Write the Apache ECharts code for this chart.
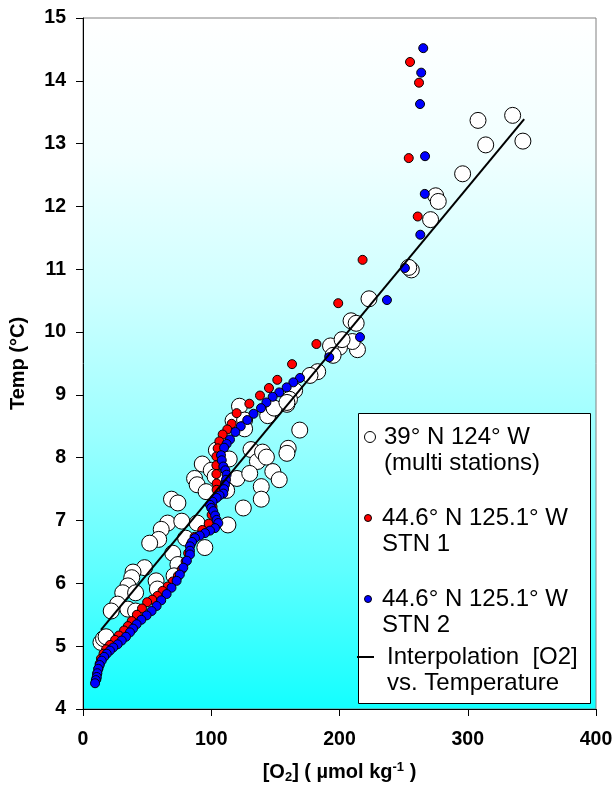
<!DOCTYPE html>
<html><head><meta charset="utf-8">
<script src="https://cdn.jsdelivr.net/npm/echarts@6/dist/echarts.min.js"></script>
<style>html,body{margin:0;padding:0;background:#fff}#c{width:616px;height:789px}</style>
</head><body><div id="c"></div>
<script>
// Axis ranges [min, max, interval]
const xRange = [0, 400, 100];
const yRange = [4, 15, 1];

const seriesNames = ['39° N 124° W\n(multi stations)', '44.6° N 125.1° W\nSTN 1', '44.6° N 125.1° W\nSTN 2', 'Interpolation  [O2]\nvs. Temperature'];

// [O2 (umol/kg), Temp (°C)]
const multiStations = [
 [335,13.45],[308,13.37],[314,12.98],[343,13.04],[296,12.52],[275,12.17],[277,12.08],[271,11.79],[256,10.99],[254,11.03],
 [223,10.53],[209,10.18],[213,10.14],[214,9.72],[210,9.85],[200,9.76],[193,9.78],[202,9.88],[195,9.63],[183,9.37],
 [177,9.31],[165,9.07],[161,8.93],[159,8.85],
 [122,8.82],[117,8.59],[126,8.60],[126,8.46],[144,8.67],[149,8.79],[159,8.88],[169,8.44],[160,8.15],[159,8.07],
 [131,8.13],[136,7.94],[140,8.09],[143,8.01],[104,8.12],[114,7.98],[93,7.90],[100,7.80],[87,7.67],[89,7.57],
 [103,7.70],[120,7.67],[130,7.75],[112,7.48],[96,7.46],[148,7.78],[153,7.65],[139,7.54],[139,7.34],[125,7.20],
 [69,7.34],[74,7.28],[66,6.96],[77,6.99],[89,6.96],[113,6.93],
 [61,6.86],[59,6.70],[52,6.64],[80,6.72],[95,6.57],[70,6.48],[48,6.25],[39,6.18],[38,6.09],[35,5.96],
 [31,5.85],[41,5.85],[57,6.04],[58,5.91],[74,6.30],[71,6.12],[27,5.67],[22,5.56],[35,5.59],[41,5.56],
 [14,5.06],[16,5.12],[18,5.15]
];

const stn1 = [
 [255,14.30],[262,13.97],[254,12.77],[261,11.84],[218,11.15],[199,10.46],[182,9.81],[163,9.49],[151.5,9.24],[145,9.11],
 [138,8.99],[129.7,8.86],[119.8,8.71],[115.9,8.54],[112.5,8.45],[108.9,8.37],[106.3,8.26],[105,8.15],[104,8.02],[104,7.88],
 [104,7.74],[104.2,7.59],[104.2,7.49],[103,7.35],[101,7.22],[100.3,7.09],[98,6.95],[93,6.85],[87,6.74],[84,6.62],
 [82,6.48],[80,6.35],[77,6.22],[74,6.12],[70,6.03],[66,5.95],[62,5.88],[58,5.80],[54,5.74],[50,5.70],
 [46,5.60],[42,5.50],[38,5.40],[35,5.32],[32,5.25],[28,5.17],[25,5.10],[21,5.02],[18,4.95],[16,4.88],
 [14,4.80],[13,4.72],[12,4.64],[11,4.56],[10.5,4.48]
];

const stn2 = [
 [265.3,14.52],[263.7,14.13],[262.8,13.63],[266.7,12.80],[266.5,12.20],[263,11.55],[251,11.02],[237,10.51],[216,9.92],[192,9.60],
 [169.2,9.27],[164,9.20],[158.8,9.12],[153,9.04],[147.9,8.97],[143,8.88],[138.8,8.79],[133,8.70],[128.1,8.60],[123,8.50],
 [118.8,8.41],[114.6,8.29],[112,8.22],[110,8.16],[107.6,8.04],[108.2,7.96],[109.4,7.86],[111,7.80],[112,7.73],[111.5,7.65],
 [110.7,7.57],[110,7.50],[109.4,7.43],[106.5,7.40],[104.2,7.36],[101,7.30],[99,7.25],[100,7.20],[101.6,7.15],[103,7.08],
 [104.2,7.01],[105.5,6.96],[102.9,6.88],[99,6.84],[95.1,6.80],[91,6.76],[87.3,6.72],[85,6.66],[83.4,6.59],[83.4,6.52],
 [83.4,6.46],[81,6.36],[78.2,6.25],[75.5,6.14],[73,6.04],[69,5.93],[65.2,5.83],[61,5.73],[57.4,5.64],[53.5,5.56],
 [49.6,5.49],[45.5,5.42],[41.8,5.35],[39,5.28],[36.6,5.22],[33.5,5.15],[30.2,5.09],[27,5.03],[23.6,4.98],[21,4.93],
 [18.5,4.88],[16.5,4.83],[14.6,4.77],[13,4.70],[11.9,4.64],[11.2,4.57],[10.7,4.51],[10,4.46],[9.4,4.41]
];

// interpolation line endpoints
const interpLine = [[14,5.26],[344,13.39]];

const FONT = '"Liberation Sans", Arial, sans-serif';
const LEG_FS = 24, LEG_LH = 26;

// Icons drawn at the top of their box so they line up with the first text line
const iconBig = 'path://M0,5.5A5.5,5.5,0,1,1,11,5.5A5.5,5.5,0,1,1,0,5.5ZM5.5,37';
const iconSmall = 'path://M0,3.5A3.5,3.5,0,1,1,7,3.5A3.5,3.5,0,1,1,0,3.5ZM3.5,33';
const iconLine = 'path://M0,0L17,0L17,2L0,2ZM25,28';

function legendFor(idx, left, top, icon, itemWidth, itemHeight, itemStyle) {
  return {
    orient: 'vertical', left: left, top: top, padding: 0,
    itemWidth: itemWidth, itemHeight: itemHeight, itemGap: 0, symbolKeepAspect: true,
    textStyle: {fontFamily: FONT, fontSize: LEG_FS, color: '#000', lineHeight: LEG_LH},
    data: [{name: seriesNames[idx], icon: icon, itemStyle: itemStyle}]
  };
}

const chart = echarts.init(document.getElementById('c'), null, {renderer: 'canvas'});
chart.setOption({
  animation: false,
  backgroundColor: '#ffffff',
  grid: {
    left: 83, right: 20, top: 18, bottom: 75,
    show: true,
    borderColor: '#808080', borderWidth: 1,
    backgroundColor: {type: 'linear', x: 0, y: 0, x2: 0, y2: 1,
      colorStops: [
        {offset: 0, color: '#ffffff'}, {offset: 0.2, color: '#f0ffff'}, {offset: 0.4, color: '#ceffff'},
        {offset: 0.6, color: '#9cffff'}, {offset: 0.8, color: '#5effff'}, {offset: 1, color: '#12ffff'}]}
  },
  graphic: [{
    type: 'rect', z: 3,
    shape: {x: 358.5, y: 413.5, width: 232, height: 290},
    style: {fill: '#ffffff', stroke: '#000000', lineWidth: 1}
  }],
  xAxis: {
    type: 'value', min: xRange[0], max: xRange[1], interval: xRange[2],
    axisLine: {show: true, onZero: false, lineStyle: {color: '#000', width: 1}},
    axisTick: {show: true, inside: false, length: 7, lineStyle: {color: '#000'}},
    splitLine: {show: false},
    axisLabel: {fontFamily: FONT, fontSize: 19.5, fontWeight: 'bold', color: '#000', margin: 21},
    name: '[O{sub|2}] ( µmol kg{sup|-1} )',
    nameLocation: 'middle', nameGap: 52,
    nameTextStyle: {fontFamily: FONT, fontSize: 20, fontWeight: 'bold', color: '#000',
      rich: {
        sub: {fontFamily: FONT, fontSize: 13, fontWeight: 'bold', color: '#000', padding: [10, 0, 0, 0]},
        sup: {fontFamily: FONT, fontSize: 13, fontWeight: 'bold', color: '#000', padding: [0, 0, 10, 0]}
      }}
  },
  yAxis: {
    type: 'value', min: yRange[0], max: yRange[1], interval: yRange[2],
    axisLine: {show: true, onZero: false, lineStyle: {color: '#000', width: 1}},
    axisTick: {show: true, inside: false, length: 7, lineStyle: {color: '#000'}},
    splitLine: {show: false},
    axisLabel: {fontFamily: FONT, fontSize: 19.5, fontWeight: 'bold', color: '#000', margin: 17},
    name: 'Temp (°C)', nameLocation: 'middle', nameGap: 55, nameRotate: 90,
    nameTextStyle: {fontFamily: FONT, fontSize: 20, fontWeight: 'bold', color: '#000'}
  },
  legend: [
    legendFor(0, 364, 424, iconBig, 18, 37, {color: '#fff', borderColor: '#000', borderWidth: 1}),
    legendFor(1, 364, 505, iconSmall, 18, 33, {color: '#ff0000', borderColor: '#000', borderWidth: 1}),
    legendFor(2, 364, 586, iconSmall, 18, 33, {color: '#0000ff', borderColor: '#000', borderWidth: 1}),
    legendFor(3, 357, 644, iconLine, 25, 28, {color: '#000', borderWidth: 0})
  ],
  series: [
    {name: seriesNames[0], type: 'scatter', data: multiStations, symbolSize: 16,
     itemStyle: {color: '#ffffff', borderColor: '#000', borderWidth: 1, opacity: 1}},
    {name: seriesNames[1], type: 'scatter', data: stn1, symbolSize: 9,
     itemStyle: {color: '#ff0000', borderColor: '#000', borderWidth: 1, opacity: 1}},
    {name: seriesNames[2], type: 'scatter', data: stn2, symbolSize: 9,
     itemStyle: {color: '#0000ff', borderColor: '#000', borderWidth: 1, opacity: 1}},
    {name: seriesNames[3], type: 'line', data: interpLine, showSymbol: false, symbol: 'none',
     lineStyle: {color: '#000', width: 2}}
  ]
});
</script></body></html>
